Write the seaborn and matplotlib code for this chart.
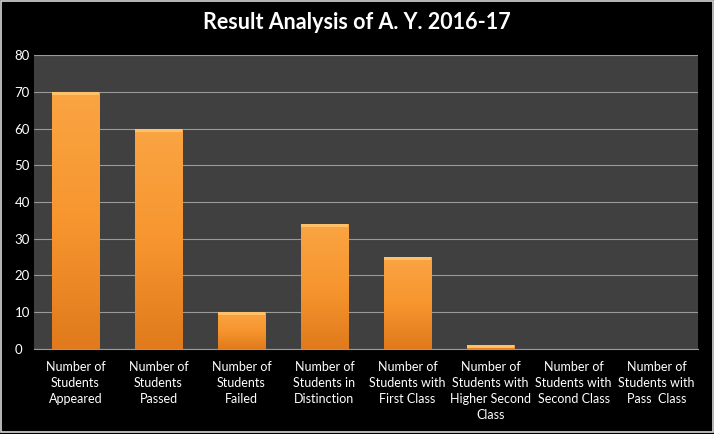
import numpy as np
import pandas as pd
import matplotlib
matplotlib.use("Agg")
import matplotlib.pyplot as plt
import seaborn as sns
from matplotlib.patches import Rectangle

categories = [
    "Number of\nStudents\nAppeared",
    "Number of\nStudents\nPassed",
    "Number of\nStudents\nFailed",
    "Number of\nStudents in\nDistinction",
    "Number of\nStudents with\nFirst Class",
    "Number of\nStudents with\nHigher Second\nClass",
    "Number of\nStudents with\nSecond Class",
    "Number of\nStudents with\nPass  Class",
]
counts = [70, 60, 10, 34, 25, 1, 0, 0]
y_ticks = [0, 10, 20, 30, 40, 50, 60, 70, 80]
title = "Result Analysis of A. Y. 2016-17"

df = pd.DataFrame({"category": categories, "count": counts})

sns.set_style("dark")
plt.rcParams["font.family"] = ["Lato", "DejaVu Sans"]

fig = plt.figure(figsize=(7.14, 4.34), dpi=100, facecolor="black")
ax = fig.add_axes([0.0476, 0.196, 0.93, 0.677])
ax.set_facecolor("#404040")

sns.barplot(data=df, x="category", y="count", color="#F7962F", width=0.57,
            saturation=1, linewidth=0, ax=ax, zorder=3)

# orange gradient on each bar (lighter at top, darker at bottom)
grad = np.linspace(0, 1, 256).reshape(-1, 1)
cmap = matplotlib.colors.LinearSegmentedColormap.from_list(
    "bar", ["#E07A1C", "#F7962F", "#FAA443"])
for patch in ax.patches:
    x0, y0 = patch.get_x(), patch.get_y()
    w, h = patch.get_width(), patch.get_height()
    if h <= 0:
        patch.set_visible(False)
        continue
    im = ax.imshow(grad, cmap=cmap, origin="lower", aspect="auto",
                   extent=[x0, x0 + w, y0, y0 + h], zorder=4)
    im.set_clip_path(patch)
    ax.add_patch(Rectangle((x0, y0 + h - min(h, 0.8)), w, min(h, 0.8),
                           color="#FFC06A", lw=0, zorder=5))

ax.set_xlim(-0.5, len(categories) - 0.5)
ax.set_ylim(0, 80)
ax.set_yticks(y_ticks)
ax.yaxis.grid(True, color="#9A9A9A", lw=0.8, zorder=1)
ax.xaxis.grid(False)
ax.set_axisbelow(True)
for s in ["top", "right", "left"]:
    ax.spines[s].set_visible(False)
ax.spines["bottom"].set_color("#9A9A9A")
ax.spines["bottom"].set_linewidth(0.8)

ax.tick_params(axis="both", length=0, colors="white", labelsize=9)
ax.tick_params(axis="y", labelsize=9.5, pad=14)
ax.tick_params(axis="x", pad=9)
for lbl in ax.get_yticklabels():
    lbl.set_horizontalalignment("left")
for lbl in ax.get_xticklabels():
    lbl.set_linespacing(1.4)
ax.set_xlabel("")
ax.set_ylabel("")

fig.text(0.5, 0.948, title, ha="center", va="center", color="white",
         fontsize=15.5, fontweight="bold")

fig.patches.append(Rectangle((0.002, 0.004), 0.996, 0.994, transform=fig.transFigure,
                             fill=False, edgecolor="#D8D8D8", lw=1.2))

fig.savefig("out.png", dpi=100, facecolor="black")
